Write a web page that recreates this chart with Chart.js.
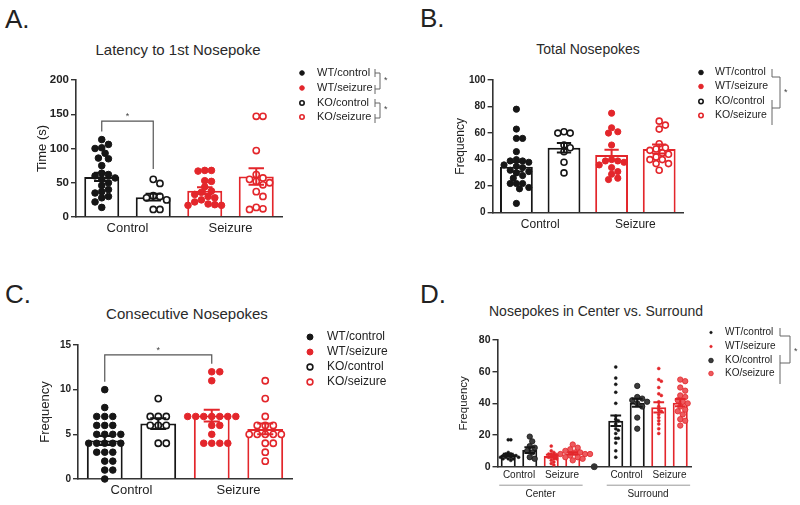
<!DOCTYPE html>
<html>
<head>
<meta charset="utf-8">
<title>Nosepoke behaviour</title>
<script src="https://cdn.jsdelivr.net/npm/chart.js@4.4.1/dist/chart.umd.min.js"></script>
<style>
  html, body { margin: 0; padding: 0; background: #fff; }
  #fig { position: relative; width: 800px; height: 505px; overflow: hidden;
         font-family: "Liberation Sans", Arial, sans-serif; color: #222; }
  #fig canvas { position: absolute; left: 0; top: 0; }
  .letter { position: absolute; font-size: 26px; line-height: 1; }
  .ttl { position: absolute; line-height: 1; white-space: nowrap; transform: translate(-50%, -50%); color: #2a2a2a; }
</style>
</head>
<body>
<div id="fig">
  <div class="letter" style="left:5px; top:6px">A.</div>
  <div class="letter" style="left:420px; top:5px">B.</div>
  <div class="letter" style="left:5px; top:281px">C.</div>
  <div class="letter" style="left:420px; top:281px">D.</div>
  <div class="ttl" style="left:178px; top:49px; font-size:15px">Latency to 1st Nosepoke</div>
  <div class="ttl" style="left:588px; top:49px; font-size:14px">Total Nosepokes</div>
  <div class="ttl" style="left:187px; top:313px; font-size:15px">Consecutive Nosepokes</div>
  <div class="ttl" style="left:596px; top:311px; font-size:14px">Nosepokes in Center vs. Surround</div>
  <canvas id="chartA" width="800" height="505"></canvas>
  <canvas id="chartB" width="800" height="505"></canvas>
  <canvas id="chartC" width="800" height="505"></canvas>
  <canvas id="chartD" width="800" height="505"></canvas>
</div>
<script>
// ---- data ----
// bar order in A-C: WT/control, KO/control, WT/seizure, KO/seizure
const barGroups = ['WT/control', 'KO/control', 'WT/seizure', 'KO/seizure'];
const legendGroups = ['WT/control', 'WT/seizure', 'KO/control', 'KO/seizure'];
const conditions = ['Control', 'Seizure'];
const zones = ['Center', 'Surround'];

// A. latency to 1st nosepoke (s)
const latWTcontrol = [113, 106, 101, 100, 93, 86, 85, 75, 64, 62, 60, 57, 55, 50, 46, 40, 37, 35, 30, 28, 22, 14];
const latKOcontrol = [55, 49, 31, 30, 28, 25, 11, 11];
const latWTseizure = [68, 68, 67, 53, 52, 44, 38, 36, 33, 30, 28, 25, 22, 19, 18, 17, 17];
const latKOseizure = [147, 147, 97, 62, 57, 55, 52, 50, 47, 37, 30, 14, 12, 11];
const latMean = [58.5, 29, 38.5, 59];
const latSem = [6, 5, 5, 12];
const latTicks = [0, 50, 100, 150, 200];

// B. total nosepokes
const totWTcontrol = [78, 63, 56, 56, 46, 40, 39, 39, 38, 36, 35, 34, 32, 31, 30, 28, 26, 22, 22, 22, 19, 18, 7];
const totKOcontrol = [60, 60, 61, 51, 49, 46, 38, 30];
const totWTseizure = [75, 64, 61, 60, 51, 40, 39, 39, 38, 36, 34, 31, 29, 26, 25];
const totKOseizure = [69, 66, 63, 52, 49, 48, 47, 45, 44, 42, 40, 40, 37, 37, 32];
const totMean = [34.7, 49, 43.5, 48];
const totSem = [3.6, 3.6, 3.9, 3.4];
const totTicks = [0, 20, 40, 60, 80, 100];

// C. consecutive nosepokes
const conWTcontrol = [10, 8, 7, 7, 7, 6, 6, 6, 5, 5, 5, 5, 4, 4, 4, 4, 4, 3, 3, 3, 2, 2, 1, 1, 0];
const conKOcontrol = [9, 7, 7, 7, 6, 6, 6, 4, 4];
const conWTseizure = [12, 12, 11, 7, 7, 7, 7, 7, 7, 7, 6, 6, 5, 4, 4, 4, 4];
const conKOseizure = [11, 9, 7, 6, 6, 6, 5, 5, 5, 5, 5, 4, 4, 3, 2];
const conMean = [4.3, 6.2, 7.1, 5.6];
const conSem = [0.5, 0.6, 0.65, 0.6];
const conTicks = [0, 5, 10, 15];

// D. nosepokes in center vs surround (4 center bars, spacer, 4 surround bars)
const zoneCenterWTcontrol = [17, 17, 9, 8, 8, 7, 7, 7, 7, 6, 6, 6, 6, 5, 5, 5, 4];
const zoneCenterKOcontrol = [19, 16, 13, 12, 10, 9, 6, 5];
const zoneCenterWTseizure = [13, 10, 9, 8, 8, 7, 7, 6, 6, 5, 5, 4, 3, 2, 1];
const zoneCenterKOseizure = [14, 12, 11, 10, 9, 9, 8, 8, 8, 7, 7, 6, 6, 5, 4];
const zoneSurrWTcontrol = [63, 56, 52, 47, 40, 32, 30, 29, 27, 24, 23, 21, 18, 18, 15, 10, 6];
const zoneSurrKOcontrol = [51, 44, 43, 42, 41, 40, 38, 31, 24];
const zoneSurrWTseizure = [62, 55, 54, 50, 46, 45, 41, 38, 36, 35, 33, 31, 29, 27, 24, 21];
const zoneSurrKOseizure = [55, 54, 50, 48, 45, 44, 42, 41, 40, 38, 36, 35, 33, 30, 29, 26];
const zoneSpacer = [0];
const zoneMean = [7.4, 10.5, 6.7, 8.4, null, 29, 40.4, 37.5, 40.4];
const zoneSem = [0.7, 1.8, 0.8, 0.7, null, 3.3, 2.5, 3.2, 2.3];
const zoneTicks = [0, 20, 40, 60, 80];

// ---- styling ----
const FONT = '"Liberation Sans", Arial, sans-serif';
const RED = '#e3262b';
const BLACK = '#161616';
const TEXT = '#222';

// spread the dots of one group sideways so they don't overlap (beeswarm)
function swarm(values, dy, dx) {
  const placed = [];
  values.slice().sort((a, b) => b - a).forEach(v => {
    for (let k = 0; k < 60; k++) {
      const off = (k % 2 ? 1 : -1) * Math.ceil(k / 2) * dx / 2;
      const hit = placed.some(p => ((p.off - off) / dx) ** 2 + ((p.v - v) / dy) ** 2 < 0.9);
      if (!hit) { placed.push({ v, off }); break; }
    }
  });
  return placed;
}

function dots(label, parts, dy, dx, r, fill, line, bw) {
  let pts = [];
  parts.forEach(([cat, values]) => {
    pts = pts.concat(swarm(values, dy, dx).map(p => ({ x: cat + p.off, y: p.v })));
  });
  return {
    type: 'scatter', label, data: pts, xAxisID: 'xj', yAxisID: 'y', order: 1, clip: false,
    pointRadius: r, pointBackgroundColor: fill, pointBorderColor: line, pointBorderWidth: bw
  };
}

function labelAxis(groups, n, weight, size, pad, h) {
  return {
    type: 'linear', position: 'bottom', weight, min: -0.5, max: n - 0.5, bounds: 'data', offset: false,
    grid: { display: false, drawTicks: false, offset: false }, border: { display: false },
    afterBuildTicks: s => { s.ticks = groups.map(g => ({ value: (g.cats[0] + g.cats[1]) / 2 })); },
    afterFit: s => { s.height = h; },
    ticks: { autoSkip: false, maxRotation: 0, padding: pad, color: TEXT,
             font: { size, family: FONT }, callback: (v, i) => groups[i].label }
  };
}

const extras = {
  id: 'extras',
  afterDatasetsDraw(chart, args, o) {
    const ctx = chart.ctx, xs = chart.scales.xj, ys = chart.scales.y, area = chart.chartArea;
    ctx.save();
    // mean +/- SEM
    o.mean.forEach((m, i) => {
      if (m === null) return;
      const x = xs.getPixelForValue(i), hw = xs.getPixelForValue(i + o.cap) - x;
      const yt = ys.getPixelForValue(m + o.sem[i]), yb = ys.getPixelForValue(m - o.sem[i]);
      ctx.strokeStyle = o.colors[i];
      ctx.lineWidth = o.errWidth;
      ctx.beginPath();
      ctx.moveTo(x, yt); ctx.lineTo(x, yb);
      ctx.moveTo(x - hw, yt); ctx.lineTo(x + hw, yt);
      ctx.moveTo(x - hw, yb); ctx.lineTo(x + hw, yb);
      ctx.stroke();
    });
    // significance brackets inside the plot
    ctx.strokeStyle = '#555';
    ctx.fillStyle = '#444';
    ctx.lineWidth = 1.2;
    (o.sig || []).forEach(b => {
      const x0 = xs.getPixelForValue(b.from), x1 = xs.getPixelForValue(b.to);
      const yt = ys.getPixelForValue(b.top);
      ctx.beginPath();
      ctx.moveTo(x0, ys.getPixelForValue(b.leftEnd));
      ctx.lineTo(x0, yt); ctx.lineTo(x1, yt);
      ctx.lineTo(x1, ys.getPixelForValue(b.rightEnd));
      ctx.stroke();
      ctx.font = '9px ' + FONT;
      ctx.textAlign = 'center';
      ctx.textBaseline = 'alphabetic';
      ctx.fillText('*', (x0 + x1) / 2, yt - 2);
    });
    // underline of grouped categories (panel D)
    ctx.strokeStyle = '#999';
    ctx.lineWidth = 1;
    (o.underlines || []).forEach(u => {
      const y = area.bottom + u.dy;
      ctx.beginPath();
      ctx.moveTo(xs.getPixelForValue(u.cats[0] - 0.42), y);
      ctx.lineTo(xs.getPixelForValue(u.cats[1] + 0.46), y);
      ctx.stroke();
    });
    // legend
    const lg = o.legend;
    ctx.textAlign = 'left';
    ctx.textBaseline = 'middle';
    lg.rows.forEach((y, k) => {
      const ds = chart.data.datasets.find(d => d.label === legendGroups[k]);
      ctx.beginPath();
      ctx.arc(lg.markerX, y, lg.r[k], 0, Math.PI * 2);
      ctx.fillStyle = ds.pointBackgroundColor;
      ctx.fill();
      ctx.lineWidth = ds.pointBorderWidth;
      ctx.strokeStyle = ds.pointBorderColor;
      ctx.stroke();
      ctx.font = lg.size + 'px ' + FONT;
      ctx.fillStyle = TEXT;
      ctx.fillText(legendGroups[k], lg.textX, y);
    });
    ctx.strokeStyle = '#666';
    ctx.lineWidth = 1;
    (lg.brackets || []).forEach(b => {
      ctx.beginPath();
      ctx.moveTo(b.x0, b.a[0]); ctx.lineTo(b.x0, b.a[1]);
      ctx.moveTo(b.x0, b.ca); ctx.lineTo(b.x1, b.ca);
      ctx.lineTo(b.x1, b.cb); ctx.lineTo(b.x0, b.cb);
      ctx.moveTo(b.x0, b.b[0]); ctx.lineTo(b.x0, b.b[1]);
      ctx.stroke();
      ctx.font = '9px ' + FONT;
      ctx.fillStyle = '#444';
      ctx.textAlign = 'left';
      ctx.textBaseline = 'middle';
      ctx.fillText('*', b.x1 + 4, b.star);
    });
    ctx.restore();
  }
};

function makePanel(id, p) {
  const n = p.cats.length;
  const lh = p.yTitleSize * 1.2;
  const yW = p.area.left - (p.yTitleX - lh / 2);
  const xH = p.xlH + (p.groups2 ? p.xl2H : 0);
  const scales = {
    x: { type: 'category', offset: true, grid: { display: false, offset: true },
         border: { display: true, color: '#333', width: 1.6 },
         ticks: { display: false }, afterFit: s => { s.height = 0; } },
    xj: { type: 'linear', display: false, min: -0.5, max: n - 0.5, bounds: 'data', offset: false,
          grid: { offset: false } },
    xl: labelAxis(p.groups, n, 1, p.xlSize, p.xlPad, p.xlH),
    y: { min: p.ticks[0], max: p.ticks[p.ticks.length - 1],
         afterBuildTicks: s => { s.ticks = p.ticks.map(v => ({ value: v })); },
         ticks: { color: TEXT, padding: 2, font: { size: p.tickSize, weight: 'bold', family: FONT } },
         grid: { drawOnChartArea: false, drawTicks: true, tickLength: 5, color: '#333', lineWidth: 1.4 },
         border: { display: true, color: '#333', width: 1.6 },
         title: { display: true, text: p.yTitle, color: TEXT, padding: { top: 0, bottom: 0 },
                  font: { size: p.yTitleSize, family: FONT } },
         afterFit: s => { s.width = yW; } }
  };
  if (p.groups2) scales.xl2 = labelAxis(p.groups2, n, 2, p.xlSize, p.xl2Pad, p.xl2H);

  const bars = {
    type: 'bar', label: 'mean', data: p.mean, xAxisID: 'x', yAxisID: 'y', order: 2,
    backgroundColor: '#fff', borderColor: p.colors, borderWidth: 2, grouped: false,
    barPercentage: p.barPct, categoryPercentage: 1
  };

  return new Chart(document.getElementById(id), {
    type: 'bar',
    data: { labels: p.cats, datasets: [bars].concat(p.sets) },
    options: {
      responsive: false, animation: false, events: [],
      layout: { padding: { left: p.area.left - yW, right: 800 - p.area.right,
                           top: p.area.top, bottom: 505 - p.area.bottom - xH } },
      plugins: {
        legend: { display: false }, tooltip: { enabled: false },
        extras: { mean: p.mean, sem: p.sem, colors: p.colors, cap: p.cap, errWidth: 2,
                  sig: p.sig, underlines: p.underlines, legend: p.legend }
      },
      scales
    },
    plugins: [extras]
  });
}

const pairGroups = [
  { label: conditions[0], cats: [0, 1] },
  { label: conditions[1], cats: [2, 3] }
];
const abcColors = [BLACK, BLACK, RED, RED];

// A
makePanel('chartA', {
  cats: barGroups, mean: latMean, sem: latSem, ticks: latTicks, colors: abcColors,
  area: { left: 76, right: 282, top: 80, bottom: 217 },
  yTitle: 'Time (s)', yTitleX: 42, yTitleSize: 13, tickSize: 11.5,
  groups: pairGroups, xlSize: 13, xlPad: 4, xlH: 24, barPct: 0.68, cap: 0.15,
  sets: [
    dots('WT/control', [[0, latWTcontrol]], 9, 0.13, 3.3, BLACK, BLACK, 1),
    dots('KO/control', [[1, latKOcontrol]], 9, 0.13, 3.1, '#fff', BLACK, 1.6),
    dots('WT/seizure', [[2, latWTseizure]], 9, 0.13, 3.3, RED, RED, 1),
    dots('KO/seizure', [[3, latKOseizure]], 9, 0.13, 3.1, '#fff', RED, 1.6)
  ],
  sig: [{ from: 0, to: 1, top: 140, leftEnd: 125, rightEnd: 70 }],
  legend: {
    markerX: 302, textX: 317, rows: [73, 88, 103, 117], size: 11, r: [2.3, 2.3, 2.2, 2.2],
    brackets: [
      { x0: 375, x1: 380, a: [69, 77], b: [85, 94], ca: 73, cb: 89, star: 81 },
      { x0: 375, x1: 380, a: [99, 107], b: [114, 123], ca: 103, cb: 118, star: 110 }
    ]
  }
});

// B
makePanel('chartB', {
  cats: barGroups, mean: totMean, sem: totSem, ticks: totTicks, colors: abcColors,
  area: { left: 492.6, right: 683, top: 80, bottom: 212.7 },
  yTitle: 'Frequency', yTitleX: 461, yTitleSize: 12, tickSize: 10,
  groups: pairGroups, xlSize: 12, xlPad: 5, xlH: 24, barPct: 0.69, cap: 0.15,
  sets: [
    dots('WT/control', [[0, totWTcontrol]], 4.6, 0.13, 3.1, BLACK, BLACK, 1),
    dots('KO/control', [[1, totKOcontrol]], 4.6, 0.13, 3.0, '#fff', BLACK, 1.6),
    dots('WT/seizure', [[2, totWTseizure]], 4.6, 0.13, 3.1, RED, RED, 1),
    dots('KO/seizure', [[3, totKOseizure]], 4.6, 0.13, 3.0, '#fff', RED, 1.6)
  ],
  legend: {
    markerX: 701, textX: 715, rows: [72.5, 86.5, 101.5, 115.5], size: 10.5, r: [2.3, 2.3, 2.2, 2.2],
    brackets: [
      { x0: 772, x1: 780, a: [69, 77], b: [100, 125], ca: 77, cb: 108, star: 93 }
    ]
  }
});

// C
makePanel('chartC', {
  cats: barGroups, mean: conMean, sem: conSem, ticks: conTicks, colors: abcColors,
  area: { left: 78, right: 292, top: 345, bottom: 479 },
  yTitle: 'Frequency', yTitleX: 45, yTitleSize: 13, tickSize: 10,
  groups: pairGroups, xlSize: 13, xlPad: 4, xlH: 24, barPct: 0.67, cap: 0.15,
  sets: [
    dots('WT/control', [[0, conWTcontrol]], 0.8, 0.15, 3.3, BLACK, BLACK, 1),
    dots('KO/control', [[1, conKOcontrol]], 0.8, 0.15, 3.1, '#fff', BLACK, 1.6),
    dots('WT/seizure', [[2, conWTseizure]], 0.8, 0.15, 3.3, RED, RED, 1),
    dots('KO/seizure', [[3, conKOseizure]], 0.8, 0.15, 3.1, '#fff', RED, 1.6)
  ],
  sig: [{ from: 0, to: 2, top: 13.9, leftEnd: 10.9, rightEnd: 12.9 }],
  legend: { markerX: 310, textX: 327, rows: [337, 352, 367, 382], size: 12, r: [3, 3, 2.9, 2.9] }
});

// D
const zoneCats = zones.flatMap(z => barGroups.map(g => z + ' ' + g));
zoneCats.splice(4, 0, '');
makePanel('chartD', {
  cats: zoneCats, mean: zoneMean, sem: zoneSem, ticks: zoneTicks,
  colors: [BLACK, BLACK, RED, RED, BLACK, BLACK, BLACK, RED, RED],
  area: { left: 497.5, right: 691, top: 340, bottom: 466.7 },
  yTitle: 'Frequency', yTitleX: 464, yTitleSize: 11.5, tickSize: 10.5,
  groups: [
    { label: conditions[0], cats: [0, 1] }, { label: conditions[1], cats: [2, 3] },
    { label: conditions[0], cats: [5, 6] }, { label: conditions[1], cats: [7, 8] }
  ],
  groups2: [{ label: zones[0], cats: [0, 3] }, { label: zones[1], cats: [5, 8] }],
  xlSize: 10, xlPad: 3, xlH: 16, xl2Pad: 5.5, xl2H: 22, barPct: 0.7, cap: 0.25,
  sets: [
    dots('WT/control', [[0, zoneCenterWTcontrol], [5, zoneSurrWTcontrol]], 1.8, 0.12, 1.5, BLACK, BLACK, 0.5),
    dots('KO/control', [[1, zoneCenterKOcontrol], [6, zoneSurrKOcontrol]], 3.4, 0.23, 2.7, '#3c3c3c', BLACK, 0.8),
    dots('WT/seizure', [[2, zoneCenterWTseizure], [7, zoneSurrWTseizure]], 1.8, 0.12, 1.5, RED, RED, 0.5),
    dots('KO/seizure', [[3, zoneCenterKOseizure], [8, zoneSurrKOseizure]], 3.4, 0.23, 2.7, '#ec5a5e', RED, 0.8),
    dots('spacer', [[4, zoneSpacer]], 1, 0.2, 3, '#333', '#333', 1)
  ],
  underlines: [{ cats: [0, 3], dy: 18.5 }, { cats: [5, 8], dy: 18.5 }],
  legend: {
    markerX: 711, textX: 725, rows: [332.5, 346.5, 360.5, 373.5], size: 10, r: [1.3, 1.3, 2.3, 2.3],
    brackets: [
      { x0: 780, x1: 790, a: [328, 336], b: [355, 384], ca: 336, cb: 363, star: 352 }
    ]
  }
});
</script>
</body>
</html>
